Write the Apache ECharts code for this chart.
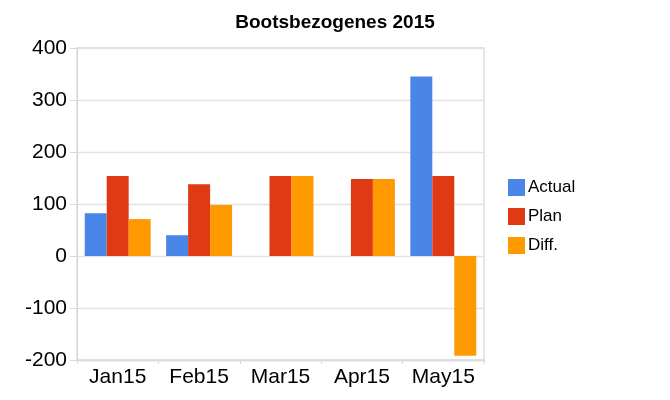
<!DOCTYPE html>
<html><head><meta charset="utf-8">
<script src="https://cdn.jsdelivr.net/npm/echarts@6/dist/echarts.min.js"></script>
<style>html,body{margin:0;padding:0;background:#fff}#c{width:670px;height:400px}</style>
</head><body><div id="c"></div>
<script>
const categories = ['Jan15','Feb15','Mar15','Apr15','May15'];
const actual = [82, 40, 0, 0, 345];
const plan = [154, 138, 154, 148, 154];
const diff = [71, 98, 154, 148, -192];
const yTicks = [-200, -100, 0, 100, 200, 300, 400];

const chart = echarts.init(document.getElementById('c'), null, {renderer:'canvas'});
const font = 'Liberation Sans, Arial, sans-serif';
chart.setOption({
  animation: false,
  title: {text: 'Bootsbezogenes 2015', left: 'center', top: 8,
    textStyle: {fontFamily: font, fontSize: 19, fontWeight: 'bold', color: '#000'}},
  grid: {left: 77, right: 186, top: 48, bottom: 40, show: true, borderColor: '#d9d9d9', borderWidth: 1.3},
  legend: {orient: 'vertical', left: 503, top: 174, itemWidth: 17, itemHeight: 17, itemGap: 12,
    icon: 'rect', textStyle: {fontFamily: font, fontSize: 17, color: '#000', padding:[0,0,0,-2]},
    data: ['Actual','Plan','Diff.']},
  xAxis: {type: 'category', data: categories,
    axisLine: {onZero: false, lineStyle: {color: '#d9d9d9', width: 1.3}},
    axisTick: {show: true, interval: 0, length: 4, lineStyle: {color: '#d9d9d9'}},
    axisLabel: {interval: 0, hideOverlap: false, fontFamily: font, fontSize: 21, color: '#000', margin: 7}},
  yAxis: {type: 'value', min: yTicks[0], max: yTicks[yTicks.length-1], interval: 100,
    axisLine: {show: true, lineStyle: {color: '#d9d9d9', width: 1.3}},
    axisTick: {show: true, length: 7, lineStyle: {color: '#d9d9d9'}},
    splitLine: {lineStyle: {color: '#e3e3e3', width: 1.3}},
    axisLabel: {fontFamily: font, fontSize: 21, color: '#000', margin: 10}},
  series: [
    {name: 'Actual', type: 'bar', data: actual, itemStyle: {color: '#4a86e8'}, barGap: '0%', barCategoryGap: '19%'},
    {name: 'Plan', type: 'bar', data: plan, itemStyle: {color: '#e03a15'}, barGap: '0%', barCategoryGap: '19%'},
    {name: 'Diff.', type: 'bar', data: diff, itemStyle: {color: '#ff9900'}, barGap: '0%', barCategoryGap: '19%'}
  ]
});
</script></body></html>
